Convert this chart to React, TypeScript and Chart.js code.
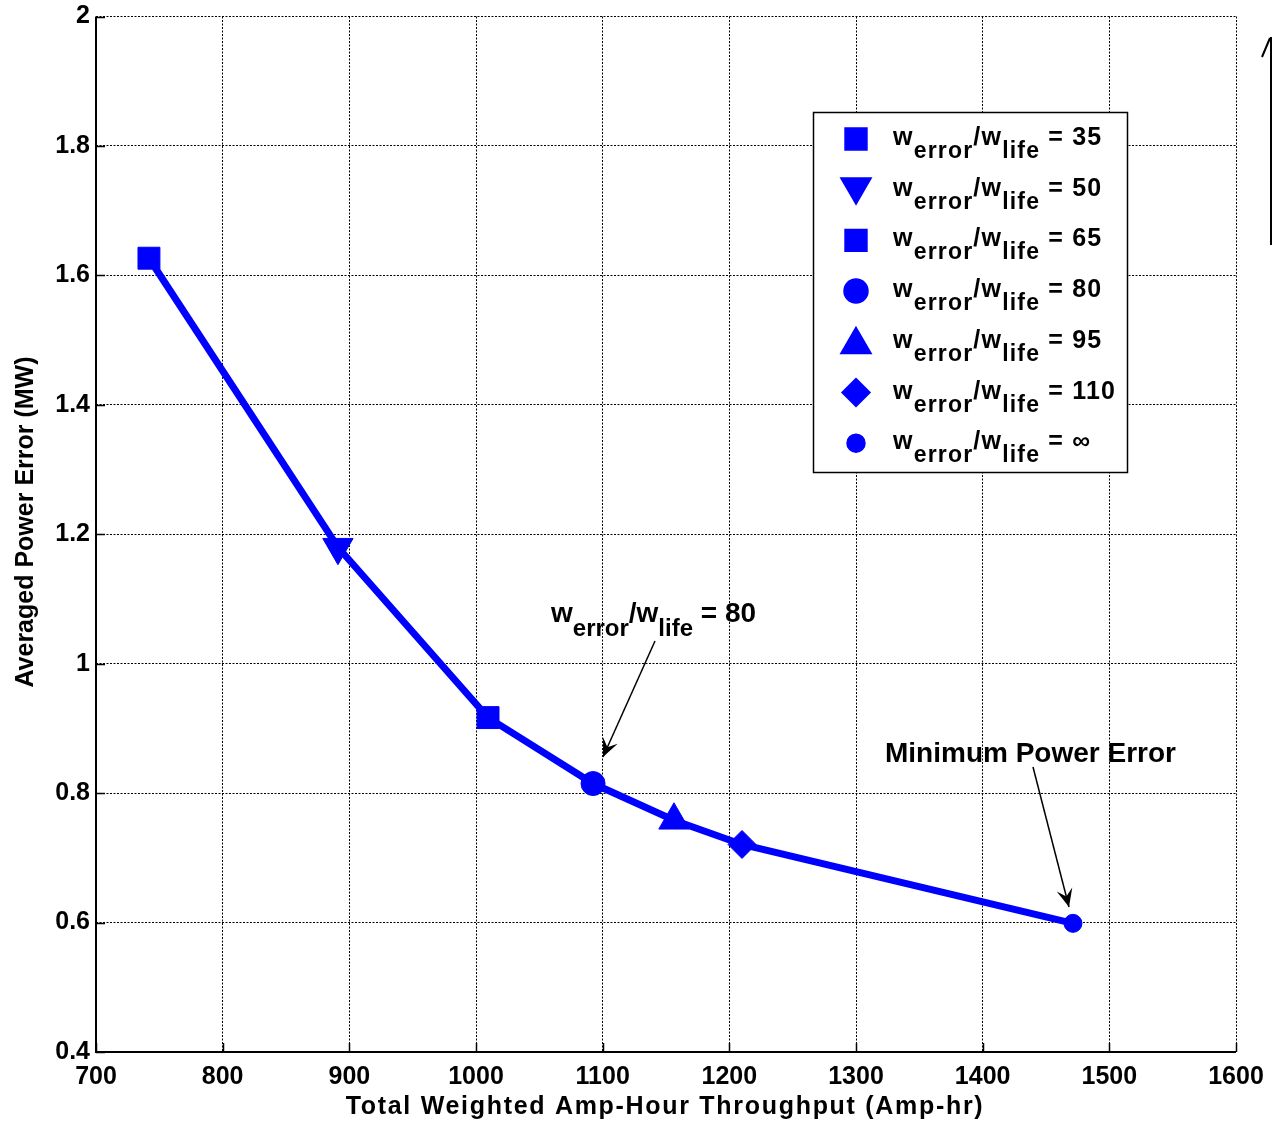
import React, { useEffect, useRef } from "react";
import { Chart, registerables } from "chart.js";
import { drawPoint } from "chart.js/helpers";

Chart.register(...registerables);

// ---- data ----
const throughput = [741.8, 891, 1009.5, 1092.4, 1156.3, 1210, 1471.3];
const powerError = [1.6265, 1.18, 0.9167, 0.8148, 0.758, 0.7207, 0.5988];
const weightRatios = ["35", "50", "65", "80", "95", "110", "\u221E"];
const markerStyles = ["rect", "triangle", "rect", "circle", "triangle", "rectRot", "circle"];
const markerRotations = [0, 180, 0, 0, 0, 0, 0];
const markerRadii = [15.5, 17.5, 15.5, 12, 17.5, 14, 9];
const xTickValues = [700, 800, 900, 1000, 1100, 1200, 1300, 1400, 1500, 1600];
const yTickValues = [0.4, 0.6, 0.8, 1, 1.2, 1.4, 1.6, 1.8, 2];
const xTitle = "Total Weighted Amp-Hour Throughput (Amp-hr)";
const yTitle = "Averaged Power Error (MW)";
const annotationRatio = "80";
const annotationMinimum = "Minimum Power Error";

const BLUE = "#0000ff";
const FONT = '"Liberation Sans", Arial, Helvetica, sans-serif';

function drawRatioText(
  ctx: CanvasRenderingContext2D,
  x: number,
  baseline: number,
  mainPx: number,
  subPx: number,
  subDrop: number,
  value: string,
  spacing: number
) {
  const main = `bold ${mainPx}px ${FONT}`;
  const sub = `bold ${subPx}px ${FONT}`;
  ctx.save();
  (ctx as any).letterSpacing = `${spacing}px`;
  ctx.textAlign = "left";
  ctx.textBaseline = "alphabetic";
  ctx.fillStyle = "#000";
  const parts: [string, boolean][] = [
    ["w", false],
    ["error", true],
    ["/w", false],
    ["life", true],
    [" = " + value, false],
  ];
  let cx = x;
  for (const [t, isSub] of parts) {
    ctx.font = isSub ? sub : main;
    ctx.fillText(t, cx, isSub ? baseline + subDrop : baseline);
    cx += ctx.measureText(t).width;
  }
  ctx.restore();
}

function drawArrow(ctx: CanvasRenderingContext2D, x1: number, y1: number, x2: number, y2: number) {
  ctx.save();
  ctx.strokeStyle = "#000";
  ctx.fillStyle = "#000";
  ctx.lineWidth = 1.5;
  ctx.beginPath();
  ctx.moveTo(x1, y1);
  ctx.lineTo(x2, y2);
  ctx.stroke();
  const ang = Math.atan2(y2 - y1, x2 - x1);
  const len = 18;
  const half = 8;
  const bx = x2 - Math.cos(ang) * len;
  const by = y2 - Math.sin(ang) * len;
  const nx = -Math.sin(ang);
  const ny = Math.cos(ang);
  const notchX = x2 - Math.cos(ang) * len * 0.6;
  const notchY = y2 - Math.sin(ang) * len * 0.6;
  ctx.beginPath();
  ctx.moveTo(x2, y2);
  ctx.lineTo(bx + nx * half, by + ny * half);
  ctx.lineTo(notchX, notchY);
  ctx.lineTo(bx - nx * half, by - ny * half);
  ctx.closePath();
  ctx.fill();
  ctx.restore();
}

const decorPlugin = {
  id: "decor",
  afterDraw(chart: any) {
    const ctx: CanvasRenderingContext2D = chart.ctx;
    const { left, right, top, bottom } = chart.chartArea;
    const xs = chart.scales.x;
    const ys = chart.scales.y;
    ctx.save();

    // solid axes (left, bottom)
    ctx.strokeStyle = "#000";
    ctx.lineWidth = 2;
    ctx.beginPath();
    ctx.moveTo(left, top);
    ctx.lineTo(left, bottom);
    ctx.lineTo(right, bottom);
    ctx.stroke();

    // inward ticks
    ctx.lineWidth = 1.5;
    ctx.beginPath();
    for (const v of xTickValues) {
      const px = Math.round(xs.getPixelForValue(v)) + 0.5;
      ctx.moveTo(px, bottom);
      ctx.lineTo(px, bottom - 9);
    }
    for (const v of yTickValues) {
      const py = Math.round(ys.getPixelForValue(v)) + 0.5;
      ctx.moveTo(left, py);
      ctx.lineTo(left + 9, py);
    }
    ctx.stroke();

    // axis titles
    ctx.fillStyle = "#000";
    ctx.textAlign = "center";
    ctx.textBaseline = "middle";
    ctx.save();
    ctx.font = `bold 25px ${FONT}`;
    (ctx as any).letterSpacing = "1.7px";
    ctx.fillText(xTitle, (left + right) / 2 - 1, 1107);
    ctx.restore();
    ctx.save();
    ctx.font = `bold 25px ${FONT}`;
    ctx.translate(26, 522);
    ctx.rotate(-Math.PI / 2);
    ctx.fillText(yTitle, 0, 0);
    ctx.restore();

    // legend
    const lx = 813, ly = 112, lw = 314, lh = 360;
    ctx.fillStyle = "#fff";
    ctx.fillRect(lx, ly, lw, lh);
    ctx.strokeStyle = "#000";
    ctx.lineWidth = 1.5;
    ctx.strokeRect(lx + 0.5, ly + 0.5, lw, lh);
    const rowStart = 139;
    const rowStep = 50.7;
    for (let i = 0; i < weightRatios.length; i++) {
      const cy = rowStart + i * rowStep;
      ctx.fillStyle = BLUE;
      ctx.strokeStyle = BLUE;
      drawPoint(ctx, {
        pointStyle: markerStyles[i] as any,
        rotation: markerRotations[i],
        radius: markerRadii[i],
        borderWidth: 1,
      } as any, 856, markerStyles[i] === "triangle" ? (markerRotations[i] ? cy - 3 : cy + 3) : cy);
      drawRatioText(ctx, 893, cy + 6, 25, 23, 13, weightRatios[i], 1.2);
    }

    // annotation: ratio = 80
    drawRatioText(ctx, 551, 622, 28, 24, 14, annotationRatio, 0);
    drawArrow(ctx, 655, 641, 603, 757);

    // annotation: minimum power error
    ctx.fillStyle = "#000";
    ctx.font = `bold 28px ${FONT}`;
    ctx.textAlign = "left";
    ctx.textBaseline = "alphabetic";
    ctx.fillText(annotationMinimum, 885, 762);
    drawArrow(ctx, 1033, 767, 1069, 907);

    // partial arrow at the right edge
    ctx.strokeStyle = "#000";
    ctx.lineWidth = 2;
    ctx.beginPath();
    ctx.moveTo(1271, 245);
    ctx.lineTo(1271, 37);
    ctx.moveTo(1262, 57);
    ctx.lineTo(1270, 38);
    ctx.stroke();

    ctx.restore();
  },
};

function zeroPadding(s: any) {
  s.paddingLeft = 0;
  s.paddingRight = 0;
  s.paddingTop = 0;
  s.paddingBottom = 0;
}

export default function App() {
  const canvasRef = useRef<HTMLCanvasElement | null>(null);

  useEffect(() => {
    const canvas = canvasRef.current;
    if (!canvas) return;
    const chart = new Chart(canvas, {
      type: "line",
      data: {
        datasets: [
          {
            data: throughput.map((x, i) => ({ x, y: powerError[i] })),
            borderColor: BLUE,
            backgroundColor: BLUE,
            borderWidth: 7,
            pointStyle: markerStyles as any,
            pointRotation: markerRotations,
            pointRadius: markerRadii,
            pointBorderWidth: 1,
            pointBackgroundColor: BLUE,
            pointBorderColor: BLUE,
            tension: 0,
            clip: false as any,
          },
        ],
      },
      options: {
        animation: false,
        responsive: false,
        devicePixelRatio: 1,
        layout: { padding: { top: 15, right: 36, left: 0, bottom: 0 } },
        plugins: { legend: { display: false }, tooltip: { enabled: false } },
        scales: {
          x: {
            type: "linear",
            min: 700,
            max: 1600,
            afterBuildTicks: (s: any) => {
              s.ticks = xTickValues.map((v) => ({ value: v }));
            },
            afterFit: (s: any) => {
              s.height = 72;
              zeroPadding(s);
            },
            ticks: {
              color: "#000",
              font: { family: FONT, size: 25, weight: "bold", lineHeight: 1 },
              padding: 13,
              maxRotation: 0,
              autoSkip: false,
              callback: (v: any) => String(v),
            },
            grid: { color: "#000", lineWidth: 1, drawTicks: false },
            border: { display: false, dash: [2, 1.5] },
          },
          y: {
            type: "linear",
            min: 0.4,
            max: 2,
            afterBuildTicks: (s: any) => {
              s.ticks = yTickValues.map((v) => ({ value: v }));
            },
            afterFit: (s: any) => {
              s.width = 96;
              zeroPadding(s);
            },
            ticks: {
              color: "#000",
              font: { family: FONT, size: 25, weight: "bold", lineHeight: 1 },
              padding: 6,
              autoSkip: false,
              callback: (v: any) => String(Number(Number(v).toFixed(1))),
            },
            grid: { color: "#000", lineWidth: 1, drawTicks: false },
            border: { display: false, dash: [2, 1.5] },
          },
        },
      },
      plugins: [decorPlugin],
    });
    return () => chart.destroy();
  }, []);

  return (
    <div style={{ position: "absolute", left: 0, top: 0, width: 1272, height: 1124, background: "#fff" }}>
      <canvas ref={canvasRef} width={1272} height={1124} />
    </div>
  );
}
